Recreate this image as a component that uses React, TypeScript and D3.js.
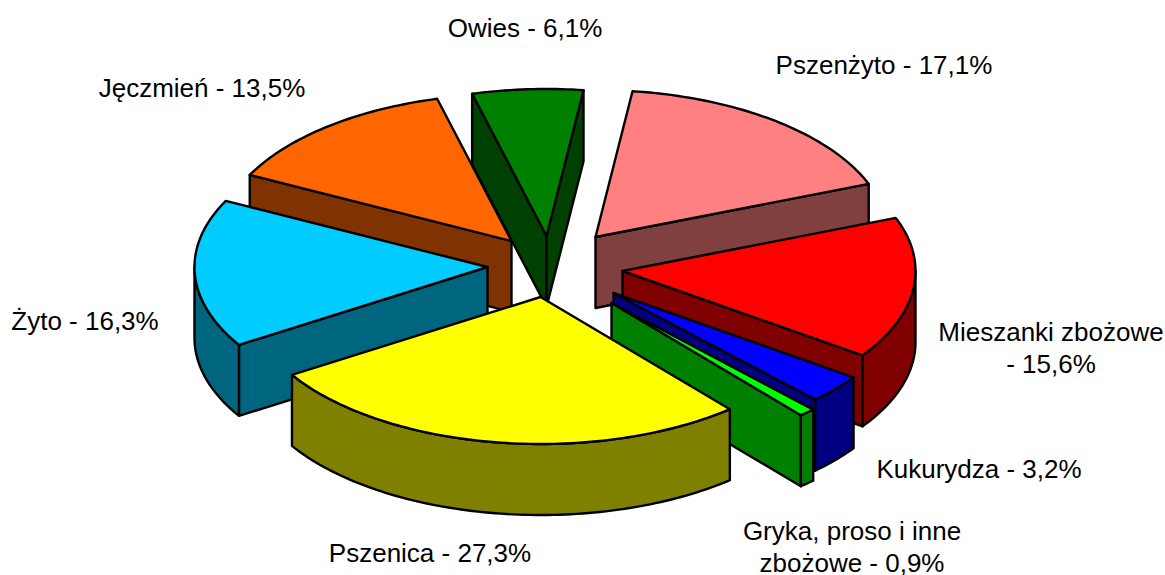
import React from "react";
import * as d3 from "d3";

const categories = ["Owies", "Pszenżyto", "Mieszanki zbożowe", "Kukurydza", "Gryka, proso i inne zbożowe", "Pszenica", "Żyto", "Jęczmień"];
const shares = [6.1, 17.1, 15.6, 3.2, 0.9, 27.3, 16.3, 13.5];
const topColors = ["#008000", "#FF8080", "#FF0000", "#0000FF", "#00FF00", "#FFFF00", "#00CCFF", "#FF6600"];
const sideColors = ["#004000", "#804040", "#800000", "#000080", "#008000", "#808000", "#006680", "#803300"];
const paintOrder = [0, 1, 7, 2, 6, 3, 4, 5];
const labelLines = [
  ["Owies - 6,1%"],
  ["Pszenżyto - 17,1%"],
  ["Mieszanki zbożowe", "- 15,6%"],
  ["Kukurydza - 3,2%"],
  ["Gryka, proso i inne", "zbożowe - 0,9%"],
  ["Pszenica - 27,3%"],
  ["Żyto - 16,3%"],
  ["Jęczmień - 13,5%"],
];
const labelX = [525, 884, 1051, 979, 852, 430, 85, 202];
const labelY = [37, 74, 341, 478, 540, 562, 330, 97];

// how far each slice is pulled out of the pie, in screen pixels
const pullX = [-8, 41, 68, 59, 57, -14, -67, -43];
const pullY = [-30, -29, 5, 27, 37, 31, 1, -25];

const CX = 554.5;
const CY = 266;
const RX = 293;
const RY = 147;
const DEPTH = 71;
const START = (-14.7 * Math.PI) / 180;

const arcs = d3
  .pie<number>()
  .sort(null)
  .startAngle(START)
  .endAngle(START + 2 * Math.PI)(shares);

const line = d3.line<[number, number]>();
const sx = d3.scaleLinear().domain([-1, 1]).range([-RX, RX]);
const sy = d3.scaleLinear().domain([-1, 1]).range([-RY, RY]);

function sweep(a0: number, a1: number, ox: number, oy: number, dz = 0): [number, number][] {
  const n = Math.max(2, Math.ceil(Math.abs(a1 - a0) / 0.02));
  return d3.range(n + 1).map((i) => {
    const a = a0 + ((a1 - a0) * i) / n;
    return [ox + sx(Math.sin(a)), oy + sy(-Math.cos(a)) + dz] as [number, number];
  });
}

function Slice({ idx }: { idx: number }) {
  const arc = arcs[idx];
  const a0 = arc.startAngle;
  const a1 = arc.endAngle;
  const ox = CX + pullX[idx];
  const oy = CY + pullY[idx];
  const top = sweep(a0, a1, ox, oy);
  const first = top[0];
  const last = top[top.length - 1];
  const faces: [number, number][][] = [];
  if (Math.sin(a0) < 0) {
    faces.push([[ox, oy], first, [first[0], first[1] + DEPTH], [ox, oy + DEPTH]]);
  }
  if (Math.sin(a1) > 0) {
    faces.push([[ox, oy], last, [last[0], last[1] + DEPTH], [ox, oy + DEPTH]]);
  }
  const w0 = Math.max(a0, Math.PI / 2);
  const w1 = Math.min(a1, (3 * Math.PI) / 2);
  const wall =
    w1 > w0
      ? [...sweep(w0, w1, ox, oy), ...sweep(w0, w1, ox, oy, DEPTH).reverse()]
      : null;
  const common = { stroke: "#000", strokeWidth: 2.4, strokeLinejoin: "round" as const };
  return (
    <g>
      {faces.map((f, i) => (
        <path key={i} d={line(f) + "Z"} fill={sideColors[idx]} {...common} />
      ))}
      {wall && <path d={line(wall) + "Z"} fill={sideColors[idx]} {...common} />}
      <path d={line([[ox, oy], ...top]) + "Z"} fill={topColors[idx]} {...common} />
    </g>
  );
}

export default function App() {
  return (
    <svg
      width={1165}
      height={575}
      style={{ position: "absolute", left: 0, top: 0 }}
      fontFamily="'Liberation Sans', Arial, sans-serif"
      fontSize={26}
      fill="#000"
    >
      {paintOrder.map((i) => (
        <Slice key={i} idx={i} />
      ))}
      {categories.map((c, i) => (
        <text key={c} textAnchor="middle" x={labelX[i]} y={labelY[i]}>
          {labelLines[i].map((t, j) => (
            <tspan key={j} x={labelX[i]} dy={j === 0 ? 0 : 32}>
              {t}
            </tspan>
          ))}
        </text>
      ))}
    </svg>
  );
}
